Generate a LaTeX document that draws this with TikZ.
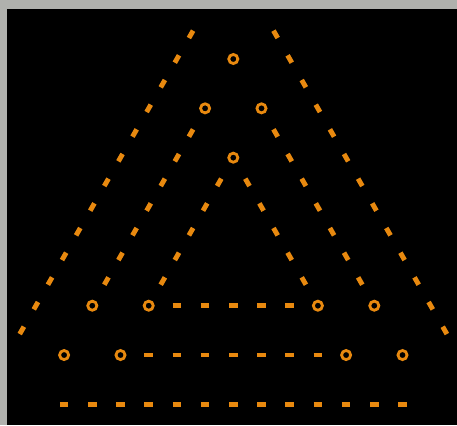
\documentclass[tikz,border=0pt]{standalone}
\usepackage{tikz}
\usepackage{xcolor}
\definecolor{ember}{HTML}{E8890F}
\definecolor{frame}{HTML}{B0B1AD}
\tikzset{
  ring_node/.style={circle,draw=ember,fill=black,line width=2.8pt,minimum size=9.1pt,inner sep=0pt},
  link_h/.style={draw=ember,line width=4.9pt,dash pattern=on 8.5pt off 19.7pt},
  link_d/.style={draw=ember,line width=4.9pt,dash pattern=on 8.5pt off 19.915pt},
  node_link/.style={shorten <=8pt,shorten >=8pt,dash phase=12.25pt},
  free_link/.style={shorten <=-4.25pt,shorten >=-4.25pt,dash phase=0pt},
}

\begin{document}
\begin{tikzpicture}[x=1pt,y=-1pt]
    \fill[frame] (0,0) rectangle (457,425);
    \fill[black] (7,9) rectangle (457,425);
    \useasboundingbox (0,0) rectangle (457,425);
  \begin{scope}[shift={(233.3,59)},x=14.1pt,y=-24.67pt]
    \node[ring_node] (apex) at (0,0) {};
    \node[ring_node] (l2) at (-2,2) {};
    \node[ring_node] (r2) at (2,2) {};
    \node[ring_node] (m4) at (0,4) {};

    \node[ring_node] (l10o) at (-10,10) {};
    \node[ring_node] (l10i) at (-6,10) {};
    \node[ring_node] (r10i) at (6,10) {};
    \node[ring_node] (r10o) at (10,10) {};

    \node[ring_node] (l12o) at (-12,12) {};
    \node[ring_node] (l12i) at (-8,12) {};
    \node[ring_node] (r12i) at (8,12) {};
    \node[ring_node] (r12o) at (12,12) {};

    \coordinate (ol_top) at (-3,-1);\coordinate (ol_bot) at (-15,11);
    \coordinate (or_top) at (3,-1);\coordinate (or_bot) at (15,11);
    \coordinate (base_l) at (-12,14);\coordinate (base_r) at (12,14);

    \draw[link_d,free_link](ol_top)--(ol_bot);\draw[link_d,free_link](or_top)--(or_bot);
    \draw[link_d,node_link](l2.center)--(l10o.center);\draw[link_d,node_link](r2.center)--(r10o.center);
    \draw[link_d,node_link](m4.center)--(l10i.center);\draw[link_d,node_link](m4.center)--(r10i.center);
    \draw[link_h,node_link](l10i.center)--(r10i.center);
    \draw[link_h,node_link](l12i.center)--(r12i.center);
    \draw[link_h,free_link](base_l)--(base_r);
  \end{scope}
\end{tikzpicture}
\end{document}
